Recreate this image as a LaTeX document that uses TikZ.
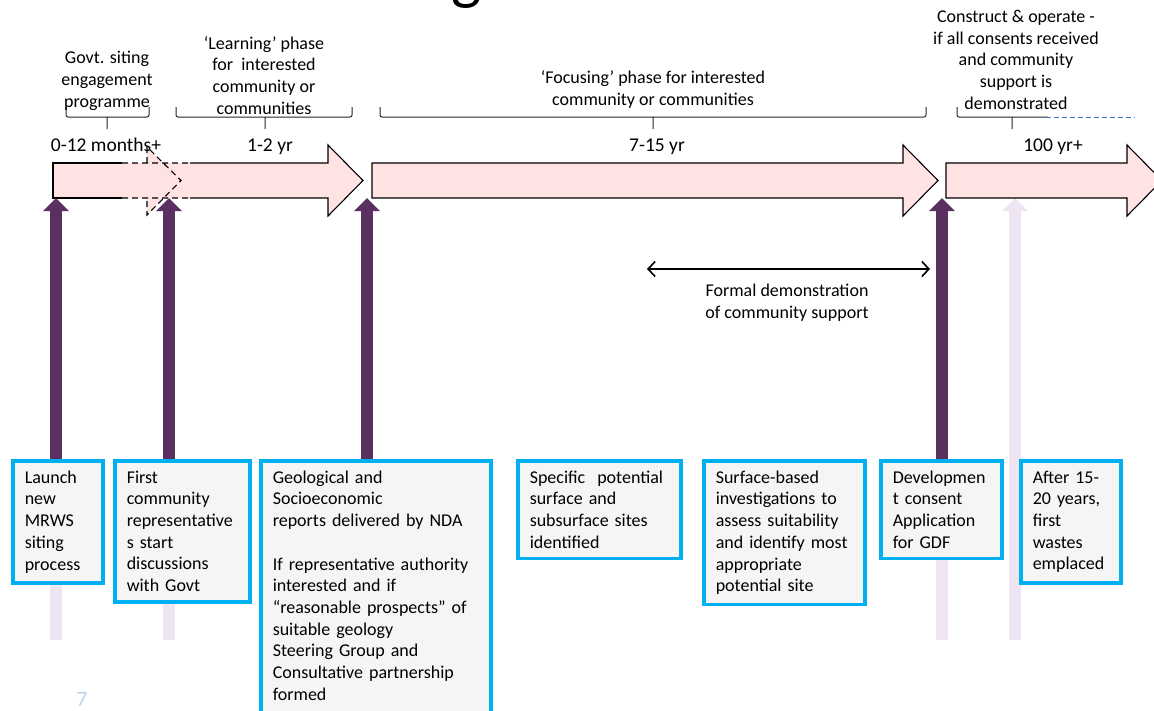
\documentclass[tikz,border=0pt]{standalone}
\usepackage{fontspec}
\setmainfont{Carlito}
\usetikzlibrary{arrows.meta, backgrounds}
\definecolor{phasepink}{RGB}{255,226,226}
\definecolor{darkpurple}{RGB}{90,48,96}
\definecolor{lavender}{RGB}{238,228,242}
\definecolor{cyanframe}{RGB}{0,176,240}
\definecolor{boxgrey}{RGB}{245,245,245}
\definecolor{pagenum}{RGB}{190,210,236}
\definecolor{dashblue}{RGB}{68,114,196}
\tikzset{
    x=1pt,
    y=-1pt,
    phase/.style={draw=black, line width=1.1pt, fill=phasepink},
    stepnote/.style={draw=cyanframe, line width=3.5pt, fill=boxgrey, anchor=north west,
        align=left, inner xsep=12pt, inner ysep=10pt, font=\fontsize{18}{21.7}\selectfont},
    phasetext/.style={align=center, anchor=north, inner sep=0pt, font=\fontsize{18}{21.7}\selectfont},
    duration/.style={anchor=base, inner sep=0pt, font=\fontsize{19.5}{23}\selectfont},
    bracket/.style={draw=black!85, line width=1pt, rounded corners=2pt},
    milestone/.style={draw=darkpurple, line width=12pt, -{Triangle[width=25pt,length=13pt]}},
    laterbar/.style={draw=lavender, line width=12pt},
    overlap/.style={line width=1.1pt, dash pattern=on 6pt off 4pt},
}

\begin{document}
\begin{tikzpicture}
    \useasboundingbox (0,0) rectangle (1154,710);
    \clip (0,0) rectangle (1154,710);

    % title remnant
    \node[anchor=base, inner sep=0pt, font=\fontsize{64}{64}\selectfont] (titleg) at (467,-3) {g};

    % points on the timeline
    \coordinate (m1) at (56,198);
    \coordinate (m2) at (169,198);
    \coordinate (m3) at (367,198);
    \coordinate (m6) at (942,198);
    \coordinate (m7) at (1015,198);
    \coordinate (floor) at (0,640);

    % steps
    \node[stepnote, text width=66pt] (launch) at (11,459)
        {Launch\\new\\MRWS\\siting\\process};
    \node[stepnote, text width=111pt] (first) at (113,459)
        {First\\community\\representative\\s start\\discussions\\with Govt};
    \node[stepnote, text width=206pt] (reports) at (259,459)
        {Geological and\\Socioeconomic\\reports delivered by NDA\\[21.7pt]If representative authority\\interested and if\\``reasonable prospects'' of\\suitable geology\\Steering Group and\\Consultative partnership\\formed\\\mbox{}};
    \node[stepnote, text width=139pt] (sites) at (516,459)
        {Specific\ \ potential\\surface and\\subsurface sites\\identified};
    \node[stepnote, text width=137pt] (survey) at (702,459)
        {Surface-based\\investigations to\\assess suitability\\and identify most\\appropriate\\potential site};
    \node[stepnote, text width=97pt] (consent) at (879,459)
        {Developmen\\t consent\\Application\\for GDF};
    \node[stepnote, text width=76pt] (wastes) at (1019,459)
        {After 15-\\20 years,\\first\\wastes\\emplaced};

    \begin{pgfonlayer}{background}
    % pale tails and the later marker
    \draw[laterbar] (launch.north -| m1) -- (m1 |- floor);
    \draw[laterbar] (first.north -| m2) -- (m2 |- floor);
    \draw[laterbar] (consent.north -| m6) -- (m6 |- floor);
    \draw[milestone, draw=lavender] (m7 |- floor) -- (m7);

    % phase arrows
    \fill[phasepink] (53,163) -- (328,163) -- (328,145) -- (363,180.5) -- (328,216)
        -- (328,198) -- (53,198) -- cycle;
    \fill[phasepink] (147,147) -- (181,180.5) -- (147,215) -- cycle;
    \draw[line width=1.1pt] (122,163) -- (53,163) -- (53,198) -- (122,198);
    \draw[overlap] (122,163) -- (190,163) (122,198) -- (190,198)
        (147,163) -- (147,147) -- (181,180.5) -- (147,215) -- (147,198);
    \draw[line width=1.1pt] (190,163) -- (328,163) -- (328,145) -- (363,180.5) -- (328,216)
        -- (328,198) -- (190,198);
    \draw[phase] (372,163) -- (903,163) -- (903,145) -- (938,180.5) -- (903,216)
        -- (903,198) -- (372,198) -- cycle;
    \draw[phase] (946,163) -- (1127,163) -- (1127,145) -- (1162,180.5) -- (1127,216)
        -- (1127,198) -- (946,198) -- cycle;

    % milestones
    \draw[milestone] (launch.north -| m1) -- (m1);
    \draw[milestone] (first.north -| m2) -- (m2);
    \draw[milestone] (reports.north -| m3) -- (m3);
    \draw[milestone] (consent.north -| m6) -- (m6);
    \end{pgfonlayer}

    % phase brackets
    \foreach \l/\r/\m in {66/149/107, 176/352/265, 380/926/653}
        \draw[bracket] (\l,107) -- (\l,117) -- (\r,117) -- (\r,107) (\m,117) -- (\m,129);
    \draw[bracket] (957,107) -- (957,117) -- (1048,117) (1012,117) -- (1012,129);
    \draw[dashblue, line width=1pt, dash pattern=on 5pt off 3pt] (1046,117) -- (1135,117);

    \node[phasetext] (govt) at (107,51) {Govt. siting\\engagement\\programme};
    \node[phasetext] (learning) at (264,36) {`Learning' phase\\for\ \ interested\\community or\\communities};
    \node[phasetext] (focusing) at (653,70.5) {`Focusing' phase for interested\\community or communities};
    \node[phasetext] (construct) at (1016,10) {Construct \& operate -\\if all consents received\\and community\\support is\\demonstrated};

    \node[duration] (d1) at (106,151) {0-12 months+};
    \node[duration] (d2) at (270,151) {1-2 yr};
    \node[duration] (d3) at (657,151) {7-15 yr};
    \node[duration] (d4) at (1053,151) {100 yr+};

    % formal demonstration
    \coordinate (fdl) at (647,269);
    \coordinate (fdr) at (930,269);
    \draw[line width=1.6pt, {Straight Barb[length=7pt,width=15pt]}-{Straight Barb[length=7pt,width=15pt]}] (fdl) -- (fdr);
    \node[phasetext] (formal) at (787,284) {Formal demonstration\\of community support};

    \node[anchor=base, inner sep=0pt, text=pagenum, font=\fontsize{22}{22}\selectfont] (page) at (82,706) {7};
\end{tikzpicture}
\end{document}
